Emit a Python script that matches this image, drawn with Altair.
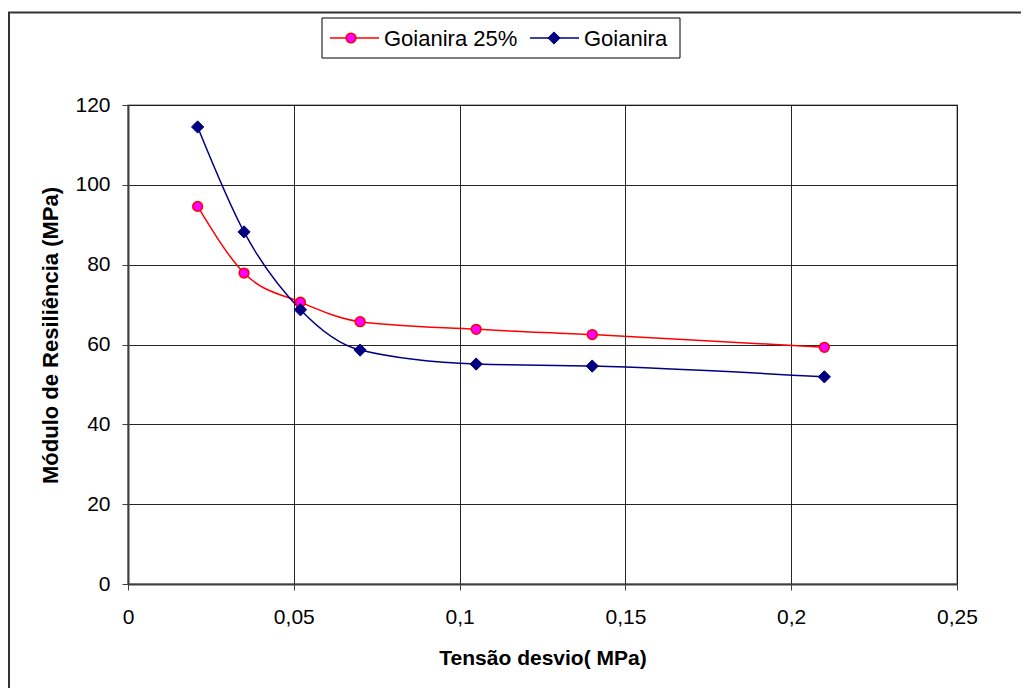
import altair as alt
import pandas as pd

x_vals = [0.021, 0.035, 0.052, 0.070, 0.105, 0.140, 0.210]
goianira_25 = [94.6, 77.9, 70.6, 65.7, 63.8, 62.5, 59.3]
goianira = [114.5, 88.2, 68.7, 58.6, 55.1, 54.6, 51.9]
series_names = ["Goianira 25%", "Goianira"]
x_ticks = [0, 0.05, 0.1, 0.15, 0.2, 0.25]
y_ticks = [0, 20, 40, 60, 80, 100, 120]

rows = []
for xv, yv in zip(x_vals, goianira_25):
    rows.append({"x": xv, "y": yv, "serie": series_names[0]})
for xv, yv in zip(x_vals, goianira):
    rows.append({"x": xv, "y": yv, "serie": series_names[1]})
df = pd.DataFrame(rows)

FONT = "Liberation Sans"
W, H = 829, 479

xenc = alt.X("x:Q", scale=alt.Scale(domain=[0, 0.25], nice=False),
             axis=alt.Axis(values=x_ticks, title="Tensão desvio( MPa)",
                           labelExpr="replace(toString(datum.value), '.', ',')",
                           grid=True, tickSize=6, labelPadding=16, labelFlush=False,
                           titleFontSize=21,
                           titleBaseline="alphabetic", titleY=80))
yenc = alt.Y("y:Q", scale=alt.Scale(domain=[0, 120], nice=False),
             axis=alt.Axis(values=y_ticks, title="Módulo de Resiliência (MPa)",
                           grid=True, tickSize=6, labelPadding=12, labelFlush=False,
                           titleFontSize=22,
                           titleBaseline="alphabetic", titleX=-71, titleY=230))

red = df[df.serie == series_names[0]]
blue = df[df.serie == series_names[1]]

line_red = alt.Chart(red).mark_line(color="#FF0000", strokeWidth=1.5, interpolate="monotone").encode(x=xenc, y=yenc)
line_blue = alt.Chart(blue).mark_line(color="#000080", strokeWidth=1.5, interpolate="monotone").encode(x="x:Q", y="y:Q")
pts_red = alt.Chart(red).mark_point(shape="circle", filled=True, fill="#FF00FF", stroke="#FF0000",
                                    strokeWidth=1.5, size=95, opacity=1).encode(x="x:Q", y="y:Q")
pts_blue = alt.Chart(blue).mark_point(shape="diamond", filled=True, fill="#000080", stroke="#000080",
                                      strokeWidth=1, size=150, opacity=1).encode(x="x:Q", y="y:Q")

one = alt.Data(values=[{"a": 1}])

# legend
leg_box = alt.Chart(one).mark_rect(fill="white", stroke="black", strokeWidth=1).encode(
    x=alt.value(194), x2=alt.value(552), y=alt.value(-87), y2=alt.value(-47))
leg_rl = alt.Chart(one).mark_rule(color="#FF0000", strokeWidth=1.5).encode(
    x=alt.value(202), x2=alt.value(251), y=alt.value(-67))
leg_rp = alt.Chart(one).mark_point(shape="circle", filled=True, fill="#FF00FF", stroke="#FF0000",
                                   strokeWidth=1.5, size=95, opacity=1).encode(x=alt.value(223), y=alt.value(-67))
leg_rt = alt.Chart(one).mark_text(text=series_names[0], font=FONT, fontSize=22, align="left",
                                  baseline="middle", color="black").encode(x=alt.value(256), y=alt.value(-66))
leg_bl = alt.Chart(one).mark_rule(color="#000080", strokeWidth=1.5).encode(
    x=alt.value(402), x2=alt.value(451), y=alt.value(-67))
leg_bp = alt.Chart(one).mark_point(shape="diamond", filled=True, fill="#000080", stroke="#000080",
                                   strokeWidth=1, size=150, opacity=1).encode(x=alt.value(426), y=alt.value(-67))
leg_bt = alt.Chart(one).mark_text(text=series_names[1], font=FONT, fontSize=22, align="left",
                                  baseline="middle", color="black").encode(x=alt.value(456), y=alt.value(-66))

# outer frame (top and left)
frame_top = alt.Chart(one).mark_rule(color="#333333", strokeWidth=2).encode(
    x=alt.value(-120), x2=alt.value(893), y=alt.value(-92.5))
frame_left = alt.Chart(one).mark_rule(color="#333333", strokeWidth=2).encode(
    x=alt.value(-119), y=alt.value(-92.5), y2=alt.value(583))

chart = alt.layer(
    line_red, line_blue, pts_red, pts_blue,
    leg_box, leg_rl, leg_rp, leg_rt, leg_bl, leg_bp, leg_bt,
    frame_top, frame_left
).properties(
    width=W, height=H,
    autosize=alt.AutoSizeParams(type="none"),
    padding={"left": 120, "top": 97, "right": 64, "bottom": 104},
).configure_view(
    stroke="#9a9a9a", strokeWidth=1.5
).configure_axis(
    labelFont=FONT, labelFontSize=21, labelColor="black",
    titleFont=FONT, titleFontSize=20, titleFontWeight="bold", titleColor="black",
    gridColor="#000000", gridOpacity=0.85, gridWidth=1,
    domainColor="#404040", domainWidth=2,
    tickColor="#404040", tickWidth=1,
)

chart.save("out.html", embed_options={"renderer": "svg", "actions": False})
